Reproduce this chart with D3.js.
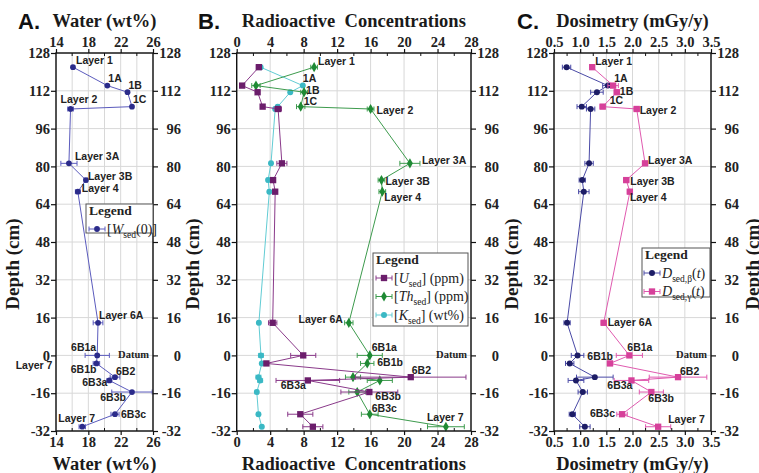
<!DOCTYPE html>
<html>
<head>
<meta charset="utf-8">
<script src="https://cdnjs.cloudflare.com/ajax/libs/d3/7.8.5/d3.min.js"></script>
<style>body{margin:0;background:#fff}</style>
</head>
<body>
<div id="chart"></div>
<script>
// depth of each sampled layer (cm), shared by all three panels
var depth = [122, 114.2, 111.4, 105.3, 104.3, 81.3, 74.2, 69.3, 13.8, 0, -3.4, -9.2, -10.6, -15.5, -24.9, -30.2]
var layerNames = ["Layer 1","1A","1B","1C","Layer 2","Layer 3A","Layer 3B","Layer 4","Layer 6A","6B1a","6B1b","6B2","6B3a","6B3b","6B3c","Layer 7"]

// A. water content (wt%)
var water    = [16.1, 20.35, 22.85, 23.4, 15.8, 15.6, 17.7, 16.7, 19.2, 19.1, 19.0, 21.3, 20.6, 23.4, 21.3, 17.25]
var waterErr = [0, 0, 0, 0, 0.35, 1.0, 0.2, 0.3, 0.6, 1.5, 0.4, 0.6, 0.3, 2.5, 0.5, 0.4]

// B. radioactive concentrations
var uSed     = [2.65, 0.65, 2.5, 3.1, 4.95, 5.4, 4.35, 4.6, 4.3, 7.95, 3.55, 20.8, 8.5, 15.85, 7.6, 9.1]
var uErr     = [0.3, 0.2, 0.2, 0.2, 0.4, 0.6, 0.2, 0.2, 0.5, 1.5, 0.2, 6.6, 3.8, 3.4, 1.5, 1.2]
var thSed    = [9.25, 2.3, 8.05, 7.65, 16.0, 20.7, 17.3, 17.4, 13.4, 15.9, 15.6, 13.9, 17.1, 14.4, 15.9, 25.0]
var thErr    = [0.4, 0.5, 0.4, 0.5, 0.4, 1.2, 0.4, 0.4, 0.5, 1.5, 0.8, 0.9, 1.5, 1.0, 1.0, 2.2]
var kSed     = [2.85, 7.9, 6.4, 4.9, 4.6, 4.1, 3.75, 3.9, 2.65, 2.9, 3.0, 2.6, 2.8, 2.4, 2.6, 3.0]
var kErr     = [0.25, 0.15, 0.15, 0.15, 0.15, 0.15, 0.15, 0.15, 0.15, 0.3, 0.15, 0.3, 0.3, 0.2, 0.15, 0.15]

// C. dose rates (mGy/y)
var dBeta     = [0.74, 1.53, 1.32, 1.03, 1.2, 1.17, 1.04, 1.07, 0.75, 0.95, 0.8, 1.28, 0.92, 1.05, 0.85, 1.09]
var dBetaErr  = [0.08, 0.1, 0.12, 0.09, 0.08, 0.08, 0.06, 0.1, 0.06, 0.12, 0.08, 0.35, 0.15, 0.09, 0.06, 0.1]
var dGamma    = [1.23, 1.63, 1.7, 1.43, 2.08, 2.24, 1.88, 1.95, 1.45, 1.94, 1.57, 2.87, 1.98, 2.36, 1.8, 2.49]
var dGammaErr = [0.03, 0.1, 0.05, 0.05, 0.05, 0.05, 0.05, 0.05, 0.05, 0.25, 0.05, 0.55, 0.33, 0.23, 0.1, 0.24]

// ticks
var depthTicks = [-32, -16, 0, 16, 32, 48, 64, 80, 96, 112, 128]
var waterTicks = [14, 18, 22, 26], waterMinor = [16, 20, 24]
var concTicks = [0, 4, 8, 12, 16, 20, 24, 28], concMinor = [2, 6, 10, 14, 18, 22, 26]
var doseTicks = [0.5, 1.0, 1.5, 2.0, 2.5, 3.0, 3.5], doseMinor = [0.75, 1.25, 1.75, 2.25, 2.75, 3.25]

var SERIF = "'Liberation Serif','Times New Roman',serif"
var SANS = "'Liberation Sans',Arial,sans-serif"
var W = 759, H = 473, TOP = 53, BOTTOM = 431

var svg = d3.select("#chart").append("svg").attr("width", W).attr("height", H)

var y = d3.scaleLinear().domain([-32, 128]).range([BOTTOM, TOP])

var series = {
  w:  {vals: water,  err: waterErr,  line: "#5b5bbd", fill: "#2b2b8a", sym: d3.symbolCircle, size: 26},
  u:  {vals: uSed,   err: uErr,      line: "#8a3a8a", fill: "#6b1d6b", sym: d3.symbolSquare, size: 40},
  th: {vals: thSed,  err: thErr,     line: "#3d9b4d", fill: "#1f8a34", sym: d3.symbolDiamond, size: 30},
  k:  {vals: kSed,   err: kErr,      line: "#62ccd4", fill: "#3ab8c4", sym: d3.symbolCircle, size: 28},
  b:  {vals: dBeta,  err: dBetaErr,  line: "#4a4aa6", fill: "#1d1d66", sym: d3.symbolCircle, size: 28},
  g:  {vals: dGamma, err: dGammaErr, line: "#e05aaf", fill: "#d6409a", sym: d3.symbolSquare, size: 40}
}

var panels = [
  {letter: "A.", letterX: 18, title: "Water (wt%)", left: 56, right: 153, domain: [14, 26],
   ticks: waterTicks, minor: waterMinor, grid: waterTicks.concat(waterMinor), fmt: d3.format("d"),
   keys: ["w"],
   labels: [
     {i:0,s:"w",dx:3,dy:-6},{i:1,s:"w",dx:1,dy:-6},{i:2,s:"w",dx:1,dy:-6},{i:3,s:"w",dx:1,dy:-6},
     {i:4,s:"w",dx:-10,dy:-9},{i:5,s:"w",dx:6,dy:-6},{i:6,s:"w",dx:2,dy:-3},{i:7,s:"w",dx:4,dy:-2},
     {i:8,s:"w",dx:1,dy:-7},{i:9,s:"w",dx:-1,dy:-7,a:"end"},{i:10,s:"w",dx:0,dy:7,a:"end"},
     {i:11,s:"w",dx:1,dy:-5},{i:12,s:"w",dx:-2,dy:3,a:"end"},{i:13,s:"w",dx:-6,dy:6,a:"end"},
     {i:14,s:"w",dx:6,dy:1},{i:15,s:"w",dx:-24,dy:-8},
     {i:10,s:"w",dx:-44,dy:3,a:"end",text:"Layer 7"}],
   legend: {x: 86, y: 204, w: 67, h: 29, sample: 3, rows: [
     {key: "w", parts: [["[",""],["W","i"],["sed","sub"],["(0)]",""]]}]}},
  {letter: "B.", letterX: 198, title: "Radioactive  Concentrations", left: 236.7, right: 471, domain: [0, 28],
   ticks: concTicks, minor: concMinor, grid: concTicks, fmt: d3.format("d"),
   keys: ["k", "th", "u"],
   labels: [
     {i:0,s:"th",dx:4,dy:-5},{i:1,s:"k",dx:0,dy:-6},{i:2,s:"th",dx:2,dy:-1},{i:3,s:"th",dx:3,dy:-4},
     {i:4,s:"th",dx:6,dy:2},{i:5,s:"th",dx:12,dy:-2},{i:6,s:"th",dx:4,dy:2},{i:7,s:"th",dx:2,dy:7},
     {i:8,s:"th",dx:-6,dy:-3,a:"end"},{i:9,s:"th",dx:2,dy:-7},{i:10,s:"th",dx:10,dy:0},
     {i:11,s:"u",dx:1,dy:-6},{i:12,s:"u",dx:-2,dy:6,a:"end"},{i:13,s:"u",dx:6,dy:5},
     {i:14,s:"th",dx:2,dy:-5},{i:15,s:"th",dx:-19,dy:-9}],
   legend: {x: 373, y: 253, w: 95, h: 73, sample: 3, rows: [
     {key: "u", parts: [["[",""],["U","i"],["sed","sub"],["] (ppm)",""]]},
     {key: "th", parts: [["[",""],["Th","i"],["sed","sub"],["] (ppm)",""]]},
     {key: "k", parts: [["[",""],["K","i"],["sed","sub"],["] (wt%)",""]]}]}},
  {letter: "C.", letterX: 517, title: "Dosimetry (mGy/y)", left: 554, right: 711, domain: [0.5, 3.5],
   ticks: doseTicks, minor: doseMinor, grid: doseTicks, fmt: d3.format(".1f"),
   keys: ["b", "g"],
   labels: [
     {i:0,s:"g",dx:3,dy:-5},{i:1,s:"g",dx:1,dy:-6},{i:2,s:"g",dx:3,dy:0},{i:3,s:"g",dx:7,dy:-5},
     {i:4,s:"g",dx:3,dy:2},{i:5,s:"g",dx:3,dy:-2},{i:6,s:"g",dx:4,dy:2},{i:7,s:"g",dx:0,dy:7},
     {i:8,s:"g",dx:4,dy:0},{i:9,s:"g",dx:-2,dy:-7},{i:10,s:"g",dx:3,dy:-6,a:"end"},
     {i:11,s:"g",dx:2,dy:-5},{i:12,s:"g",dx:1,dy:6,a:"end"},{i:13,s:"g",dx:-3,dy:7},
     {i:14,s:"g",dx:-7,dy:0,a:"end"},{i:15,s:"g",dx:10,dy:-7}],
   legend: {x: 642, y: 248, w: 68, h: 49, sample: 2, rows: [
     {key: "b", parts: [["D","i"],["sed,\u03B2","sub"],["(",""],["t","i"],[")",""]]},
     {key: "g", parts: [["D","i"],["sed,\u03B3","sub"],["(",""],["t","i"],[")",""]]}]}}
]

function richText(g, x, yy, parts, size) {
  var t = g.append("text").attr("x", x).attr("y", yy)
    .style("font-family", SERIF).style("font-size", size + "px").attr("fill", "#222")
  var down = false
  parts.forEach(function(p) {
    var s = t.append("tspan").text(p[0])
    if (p[1] == "i") s.style("font-style", "italic")
    if (p[1] == "sub") {
      s.style("font-size", (size * 0.68) + "px").attr("dy", 4)
      down = true
    } else if (down) {
      s.attr("dy", -4)
      down = false
    }
  })
}

function errBar(g, x, cx, cy, v, e, color) {
  if (e <= 0) return
  var x0 = x(v - e), x1 = x(v + e)
  g.append("line").attr("x1", x0).attr("x2", x1).attr("y1", cy).attr("y2", cy)
    .attr("stroke", color).attr("stroke-width", 1)
  ;[x0, x1].forEach(function(xx) {
    g.append("line").attr("x1", xx).attr("x2", xx).attr("y1", cy - 2.5).attr("y2", cy + 2.5)
      .attr("stroke", color).attr("stroke-width", 1)
  })
}

panels.forEach(function(p) {
  var x = d3.scaleLinear().domain(p.domain).range([p.left, p.right])
  var g = svg.append("g")

  // grid
  g.append("g").selectAll("line").data(p.grid).join("line")
    .attr("x1", d => x(d)).attr("x2", d => x(d)).attr("y1", TOP).attr("y2", BOTTOM)
    .attr("stroke", "#d8d8d8").attr("stroke-width", 1)
  g.append("g").selectAll("line").data(depthTicks).join("line")
    .attr("y1", d => y(d)).attr("y2", d => y(d)).attr("x1", p.left).attr("x2", p.right)
    .attr("stroke", "#d8d8d8").attr("stroke-width", 1)

  // series: line, error bars, markers
  p.keys.forEach(function(k) {
    var s = series[k]
    var pts = depth.map((d, i) => [x(s.vals[i]), y(d)])
    g.append("path").datum(pts).attr("fill", "none").attr("stroke", s.line)
      .attr("stroke-width", 1).attr("d", d3.line())
    pts.forEach(function(pt, i) { errBar(g, x, pt[0], pt[1], s.vals[i], s.err[i], s.line) })
    g.append("g").selectAll("path").data(pts).join("path")
      .attr("transform", d => "translate(" + d[0] + "," + d[1] + ")")
      .attr("d", d3.symbol().type(s.sym).size(s.size))
      .attr("fill", s.fill)
  })

  // frame
  g.append("rect").attr("x", p.left).attr("y", TOP).attr("width", p.right - p.left)
    .attr("height", BOTTOM - TOP).attr("fill", "none").attr("stroke", "#111").attr("stroke-width", 1.4)

  // axes
  var depthFmt = d => String(d)
  var axL = g.append("g").attr("transform", "translate(" + p.left + ",0)")
    .call(d3.axisLeft(y).tickValues(depthTicks).tickSize(5).tickPadding(1).tickFormat(depthFmt))
  var axR = g.append("g").attr("transform", "translate(" + p.right + ",0)")
    .call(d3.axisRight(y).tickValues(depthTicks).tickSize(5).tickFormat(depthFmt))
  axR.selectAll("text").attr("x", 28).attr("text-anchor", "end")
  var axT = g.append("g").attr("transform", "translate(0," + TOP + ")")
    .call(d3.axisTop(x).tickValues(p.ticks).tickSize(4).tickPadding(2).tickFormat(p.fmt))
  var axB = g.append("g").attr("transform", "translate(0," + BOTTOM + ")")
    .call(d3.axisBottom(x).tickValues(p.ticks).tickSize(4).tickPadding(2).tickFormat(p.fmt))
  ;[axL, axR, axT, axB].forEach(function(a) {
    a.select(".domain").remove()
    a.selectAll("line").attr("stroke", "#111").attr("stroke-width", 1.2)
    a.selectAll("text").style("font-family", SERIF).style("font-size", "14.5px")
      .style("font-weight", "bold").attr("fill", "#222")
  })
  // minor ticks pointing inward
  g.append("g").selectAll("line").data(p.minor).join("line")
    .attr("x1", d => x(d)).attr("x2", d => x(d)).attr("y1", BOTTOM).attr("y2", BOTTOM - 3)
    .attr("stroke", "#111")
  g.append("g").selectAll("line").data(p.minor).join("line")
    .attr("x1", d => x(d)).attr("x2", d => x(d)).attr("y1", TOP).attr("y2", TOP + 3)
    .attr("stroke", "#111")

  // titles
  svg.append("text").attr("x", p.letterX).attr("y", 29).text(p.letter)
    .style("font-family", SANS).style("font-weight", "bold").style("font-size", "22px").attr("fill", "#111")
  svg.append("text").attr("x", (p.left + p.right) / 2).attr("y", 27).attr("text-anchor", "middle")
    .text(p.title).style("font-family", SERIF).style("font-weight", "bold").style("font-size", "18.5px")
    .style("white-space", "pre").attr("fill", "#1a1a1a")
  svg.append("text").attr("x", (p.left + p.right) / 2).attr("y", 470).attr("text-anchor", "middle")
    .text(p.title).style("font-family", SERIF).style("font-weight", "bold").style("font-size", "18.5px")
    .style("white-space", "pre").attr("fill", "#1a1a1a")

  // point labels
  p.labels.forEach(function(l) {
    var s = series[l.s]
    g.append("text").attr("x", x(s.vals[l.i]) + l.dx).attr("y", y(depth[l.i]) + l.dy)
      .attr("dominant-baseline", "middle").attr("text-anchor", l.a || "start")
      .text(l.text || layerNames[l.i])
      .style("font-family", SANS).style("font-weight", "bold").style("font-size", "10.5px").attr("fill", "#222")
  })
  g.append("text").attr("x", p.right - 4).attr("y", y(0)).attr("dominant-baseline", "middle")
    .attr("text-anchor", "end").text("Datum")
    .style("font-family", SERIF).style("font-weight", "bold").style("font-size", "10.5px").attr("fill", "#222")

  // legend
  var L = p.legend
  var lg = g.append("g")
  lg.append("rect").attr("x", L.x).attr("y", L.y).attr("width", L.w).attr("height", L.h)
    .attr("fill", "#fff").attr("stroke", "#555").attr("stroke-width", 1)
  lg.append("text").attr("x", L.x + 3).attr("y", L.y + 11).text("Legend")
    .style("font-family", SERIF).style("font-weight", "bold").style("font-size", "13.5px").attr("fill", "#222")
  L.rows.forEach(function(r, j) {
    var s = series[r.key]
    var cy = L.y + 25 + j * 18.5
    var x0 = L.x + L.sample, x1 = x0 + 16
    lg.append("line").attr("x1", x0).attr("x2", x1).attr("y1", cy).attr("y2", cy).attr("stroke", s.line)
    ;[x0, x1].forEach(function(xx) {
      lg.append("line").attr("x1", xx).attr("x2", xx).attr("y1", cy - 2.5).attr("y2", cy + 2.5).attr("stroke", s.line)
    })
    lg.append("path").attr("transform", "translate(" + ((x0 + x1) / 2) + "," + cy + ")")
      .attr("d", d3.symbol().type(s.sym).size(s.size)).attr("fill", s.fill)
    richText(lg, x1 + 2, cy + 4.5, r.parts, 14)
  })
})

// depth axis titles
;[15, 195, 514, 755].forEach(function(xx) {
  svg.append("text").attr("transform", "translate(" + xx + ",264) rotate(-90)")
    .attr("text-anchor", "middle").attr("dominant-baseline", "middle").text("Depth (cm)")
    .style("font-family", SERIF).style("font-weight", "bold").style("font-size", "19px").attr("fill", "#1a1a1a")
})
</script>
</body>
</html>
